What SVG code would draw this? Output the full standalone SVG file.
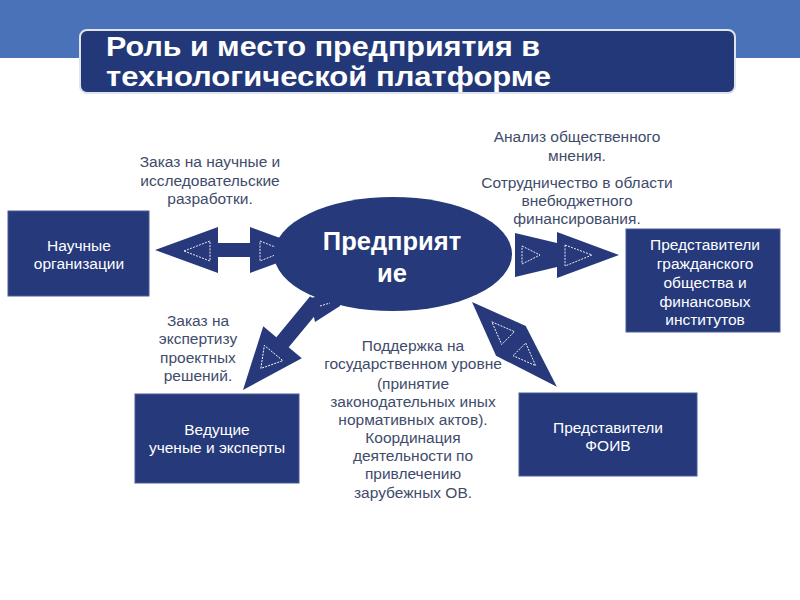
<svg xmlns="http://www.w3.org/2000/svg" width="800" height="600" viewBox="0 0 800 600">
<style>
.box{fill:#25397b;stroke:#4a5c94;stroke-width:1}
.arr{fill:#27397b}
.dash{fill:none;stroke:#ffffff;stroke-width:0.9;stroke-dasharray:2,1.2}
.bt{font-family:"Liberation Sans",Arial,sans-serif;font-size:15.5px;fill:#ffffff;text-anchor:middle}
.lb{font-family:"Liberation Sans",Arial,sans-serif;font-size:15.5px;fill:#414b6b;text-anchor:middle}
.tt{font-family:"Liberation Sans",Arial,sans-serif;font-size:27px;font-weight:bold;fill:#ffffff}
.et{font-family:"Liberation Sans",Arial,sans-serif;font-size:25.5px;font-weight:bold;fill:#ffffff;text-anchor:middle}
</style>
<rect x="0" y="0" width="800" height="600" fill="#ffffff"/>
<rect x="0" y="0" width="800" height="58" fill="#4a72b8"/>
<g id="title">
<rect x="80" y="30" width="655" height="63" rx="7" fill="#233878" stroke="#dfe3ec" stroke-width="2"/>
<text class="tt" x="106" y="56" textLength="434" lengthAdjust="spacingAndGlyphs">Роль и место предприятия в</text>
<text class="tt" x="106" y="86" textLength="445" lengthAdjust="spacingAndGlyphs">технологической платформе</text>
</g>
<g id="connectors">
<g id="arrow-left">
<polygon class="arr" points="155,250 218,227 218,243 250,243 250,227 313,250 250,273 250,257 218,257 218,273"/>
<polygon class="dash" points="184,251 210,241 210,261"/>
<polygon class="dash" points="260,241 285,251 260,261"/>
</g>
<g id="arrow-right">
<polygon class="arr" points="515,233 557,243 557,232 619,255 557,278 557,267 515,277"/>
<polygon class="dash" points="522,246 540,255 522,264"/>
<polygon class="dash" points="565,245 592,255 565,266"/>
</g>
<g id="arrow-bottom-left">
<g transform="translate(243,390) rotate(-50.4)">
<polygon class="arr" points="0,0 62,-25 62,-8 115,-8 115,8 62,8 62,25"/>
<polygon class="dash" points="28,0 48,-12 48,12"/>
</g>
<polygon class="arr" points="310,298 315,322 340,306 342,292"/>
<line class="dash" x1="320" y1="306" x2="330" y2="303"/>
</g>
<g id="arrow-bottom-right" transform="translate(472,302) rotate(45)">
<polygon class="arr" points="0,0 55,-21 120,0 55,21"/>
<polygon class="dash" points="28,0 51,-9 51,9"/>
<polygon class="dash" points="67,-9 90,0 67,9"/>
</g>
</g>
<g id="enterprise">
<ellipse cx="393" cy="254" rx="119" ry="57" fill="#25397b"/>
<text class="et" x="392" y="250">Предприят</text>
<text class="et" x="392" y="282">ие</text>
</g>
<g id="sci-org">
<rect class="box" x="8" y="211" width="141" height="85"/>
<text class="bt" x="79" y="250.5">Научные</text>
<text class="bt" x="79" y="268.5">организации</text>
</g>
<g id="civil">
<rect class="box" x="626" y="229" width="154" height="103"/>
<text class="bt" x="705" y="249.5">Представители</text>
<text class="bt" x="705" y="268.5">гражданского</text>
<text class="bt" x="705" y="287.5">общества и</text>
<text class="bt" x="705" y="306.5">финансовых</text>
<text class="bt" x="705" y="324.5">институтов</text>
</g>
<g id="experts">
<rect class="box" x="135" y="394" width="164" height="89"/>
<text class="bt" x="217" y="434.5">Ведущие</text>
<text class="bt" x="217" y="452.5">ученые и эксперты</text>
</g>
<g id="foiv">
<rect class="box" x="519" y="393" width="178" height="83"/>
<text class="bt" x="608" y="432.5">Представители</text>
<text class="bt" x="608" y="450.5">ФОИВ</text>
</g>
<g id="labels">
<text class="lb" x="210" y="166.5">Заказ на научные и</text>
<text class="lb" x="210" y="185.5">исследовательские</text>
<text class="lb" x="210" y="203.5">разработки.</text>
<text class="lb" x="577" y="141.5">Анализ общественного</text>
<text class="lb" x="577" y="160.5">мнения.</text>
<text class="lb" x="577" y="187.5">Сотрудничество в области</text>
<text class="lb" x="577" y="205.5">внебюджетного</text>
<text class="lb" x="577" y="223.5">финансирования.</text>
<text class="lb" x="198" y="325.5">Заказ на</text>
<text class="lb" x="198" y="343.5">экспертизу</text>
<text class="lb" x="198" y="362.5">проектных</text>
<text class="lb" x="198" y="380.5">решений.</text>
<text class="lb" x="413" y="350.5">Поддержка на</text>
<text class="lb" x="413" y="368.5">государственном уровне</text>
<text class="lb" x="413" y="388.5">(принятие</text>
<text class="lb" x="413" y="406.5">законодательных иных</text>
<text class="lb" x="413" y="424.5">нормативных актов).</text>
<text class="lb" x="413" y="442.5">Координация</text>
<text class="lb" x="413" y="460.5">деятельности по</text>
<text class="lb" x="413" y="478.5">привлечению</text>
<text class="lb" x="413" y="497.5">зарубежных ОВ.</text>
</g>
</svg>
